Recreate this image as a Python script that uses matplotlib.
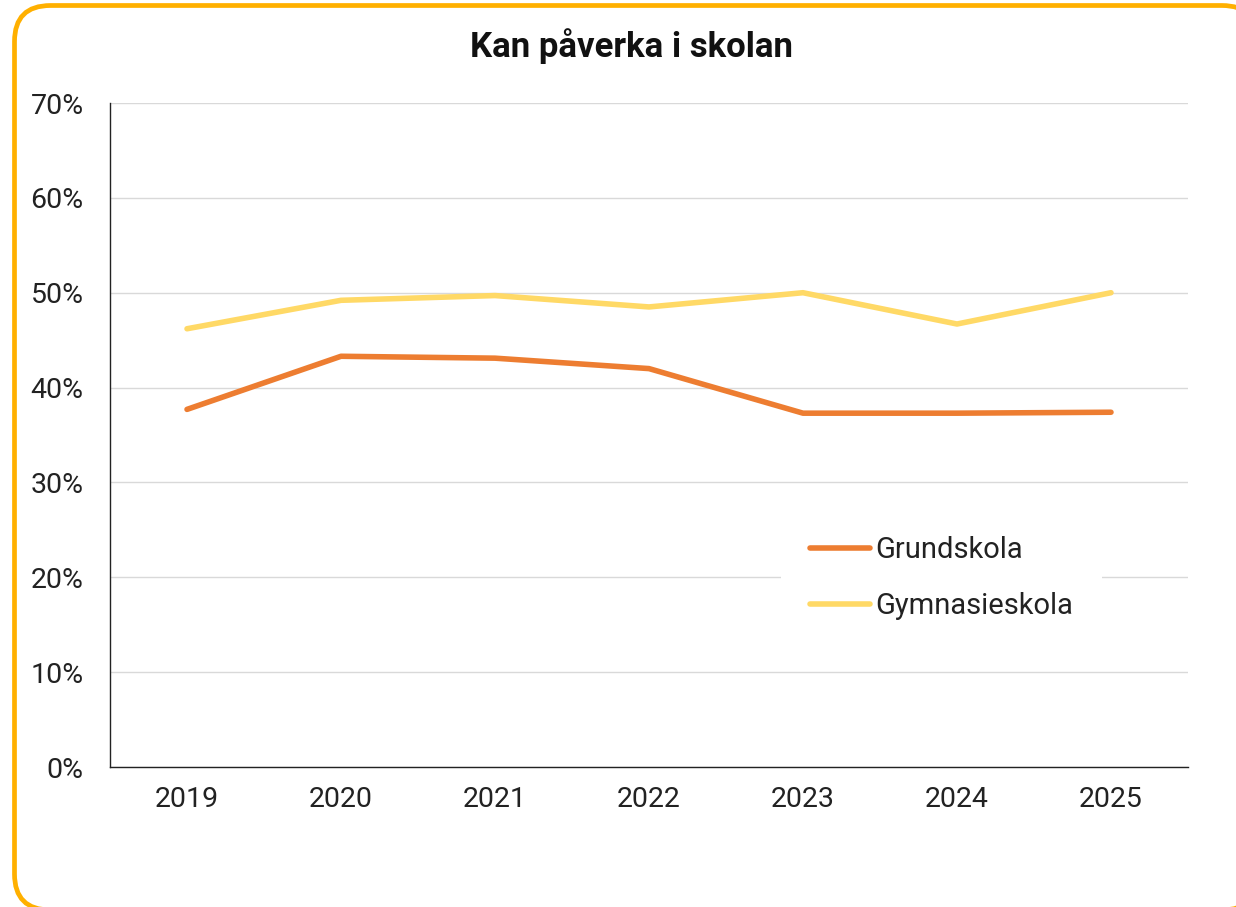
import matplotlib
matplotlib.use("Agg")
import matplotlib.pyplot as plt
from matplotlib.patches import FancyBboxPatch

years = ["2019", "2020", "2021", "2022", "2023", "2024", "2025"]
grundskola = [37.7, 43.3, 43.1, 42.0, 37.3, 37.3, 37.4]
gymnasieskola = [46.2, 49.2, 49.7, 48.5, 50.0, 46.7, 50.0]
yticks = [0, 10, 20, 30, 40, 50, 60, 70]

plt.rcParams['font.family'] = ['Roboto', 'DejaVu Sans']

W, H = 1236, 907
fig = plt.figure(figsize=(W / 100, H / 100), dpi=100)

# background axes in pixel coordinates for the rounded orange frame
bg = fig.add_axes([0, 0, 1, 1], zorder=-1)
bg.set_xlim(0, W)
bg.set_ylim(H, 0)
bg.axis('off')
frame = FancyBboxPatch((14.5, 5.5), 1258 - 14.5, 910 - 5.5,
                       boxstyle="round,pad=0,rounding_size=36",
                       facecolor='white', edgecolor='#FFB000', linewidth=3.4,
                       clip_on=False)
bg.add_patch(frame)

ax = fig.add_axes([110 / W, 1 - 767 / H, (1188 - 110) / W, (767 - 103) / H])
ax.set_facecolor('none')
x = list(range(len(years)))
ax.plot(x, grundskola, color='#ED7D31', lw=4.0, solid_capstyle='round',
        solid_joinstyle='round', label='Grundskola', zorder=3)
ax.plot(x, gymnasieskola, color='#FFD966', lw=4.0, solid_capstyle='round',
        solid_joinstyle='round', label='Gymnasieskola', zorder=3)

ax.set_xlim(-0.5, len(years) - 0.5)
ax.set_ylim(0, 70)
ax.set_yticks(yticks)
ax.set_yticklabels([f"{v}%" for v in yticks])
ax.set_xticks(x)
ax.set_xticklabels(years)
ax.tick_params(axis='both', length=0, labelsize=20.5, colors='#222222')
ax.tick_params(axis='y', pad=19)
ax.tick_params(axis='x', pad=14)
ax.grid(axis='y', color='#D9D9D9', lw=1)
ax.set_axisbelow(True)
for s in ['top', 'right']:
    ax.spines[s].set_visible(False)
for s in ['left', 'bottom']:
    ax.spines[s].set_color('#222222')
    ax.spines[s].set_linewidth(1)

leg = ax.legend(loc='center left', bbox_to_anchor=(781 / W, 1 - 578 / H),
                bbox_transform=fig.transFigure, frameon=True, fontsize=21,
                handlelength=2.05, handletextpad=0.17, labelspacing=0.96,
                borderpad=1.0, borderaxespad=0)
leg.get_frame().set_facecolor('white')
leg.get_frame().set_edgecolor('none')
leg.get_frame().set_alpha(1)
for t in leg.get_texts():
    t.set_color('#222222')

fig.text(631 / W, 1 - 57 / H, "Kan påverka i skolan", ha='center', va='baseline',
         fontsize=25, fontweight='bold', color='#111111')

fig.savefig('out.png', dpi=100)
